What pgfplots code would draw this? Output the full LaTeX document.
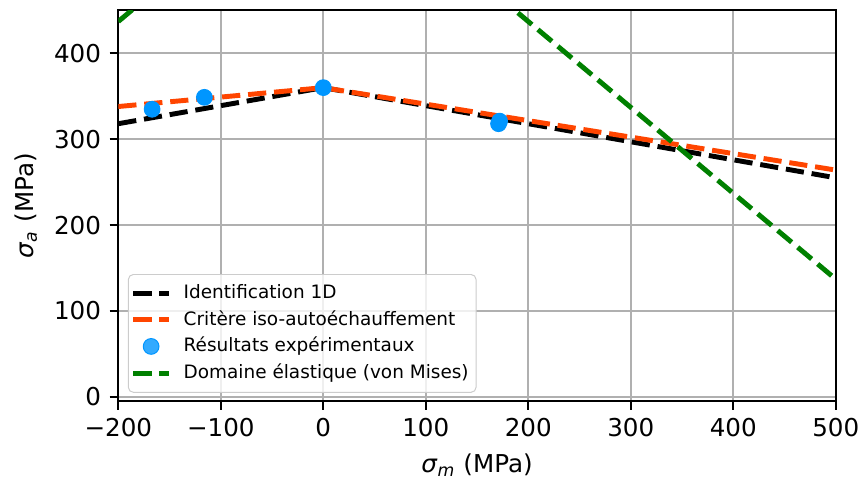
\documentclass[border=0pt]{standalone}
\usepackage{fontspec}
\setmainfont{DejaVu Sans}
\usepackage{pgfplots}
\pgfplotsset{compat=1.18}
\definecolor{mplred}{RGB}{255,69,0}
\definecolor{mplblue}{RGB}{0,150,255}
\definecolor{mplgreen}{RGB}{0,128,0}
\definecolor{gridgray}{RGB}{176,176,176}
\pgfplotsset{
  lineleg/.style={legend image code/.code={\draw[##1] (1.5pt,0pt) -- (16pt,0pt);}},
  markleg/.style={legend image code/.code={\draw[mark repeat=2, mark phase=2, ##1] plot coordinates {(1.5pt,0pt) (8.75pt,0pt) (16pt,0pt)};}},
}
\begin{document}
\begin{tikzpicture}
\begin{axis}[
  at={(0,0)}, anchor=south west,
  scale only axis, width=291.7pt, height=158.9pt,
  xmin=-200, xmax=500, ymin=-5, ymax=450,
  xtick={-200,-100,0,100,200,300,400,500},
  xticklabels={−200,−100,0,100,200,300,400,500},
  ytick={0,100,200,300,400},
  yticklabels={0,100,200,300,400},
  xtick pos=bottom, ytick pos=left,
  tick align=outside, major tick length=3.5pt,
  every tick/.style={black, line width=0.8pt},
  axis line style={line width=0.8pt},
  grid=major, major grid style={gridgray, line width=0.8pt},
  tick label style={font=\fontsize{10pt}{12pt}\selectfont},
  label style={font=\fontsize{10pt}{12pt}\selectfont},
  xlabel={\textit{σ}\textsubscript{\textit{m}} (MPa)},
  ylabel={\textit{σ}\textsubscript{\textit{a}} (MPa)},
  legend cell align=left,
  legend style={at={(axis description cs:0,0)}, anchor=south west, xshift=3.9pt, yshift=3.4pt,
    font=\fontsize{7.5pt}{9pt}\selectfont, draw=black!20, rounded corners=2pt,
    fill=white, fill opacity=0.8, text opacity=1, inner xsep=1pt, inner ysep=2pt,
    row sep=-0.6pt, /tikz/every odd column/.append style={column sep=3pt}},
  lineleg,
]
\addplot[black, line width=2pt, dash pattern=on 7.4pt off 3.2pt] coordinates {(-200,318) (0,360) (500,255)};
\addlegendentry{Identification 1D}
\addplot[mplred, line width=2pt, dash pattern=on 7.4pt off 3.2pt] coordinates {(-200,338) (0,360) (500,264)};
\addlegendentry{Critère iso-autoéchauffement}
\addplot[only marks, mark=*, mark size=3.2pt, mplblue, mark options={draw=mplblue, fill=mplblue}, markleg]
  coordinates {(-167,334.8) (-116,348.7) (0,360) (171,318) (172,321)};
\addlegendentry{Résultats expérimentaux}
\addplot[mplgreen, line width=2pt, dash pattern=on 7.4pt off 3.2pt] coordinates {(-200,437) (0,637) (500,137)};
\addlegendentry{Domaine élastique (von Mises)}
\end{axis}
\pgfresetboundingbox
\path[use as bounding box] (-48.1pt,-34.4pt) rectangle (304pt,163.1pt);
\end{tikzpicture}
\end{document}
